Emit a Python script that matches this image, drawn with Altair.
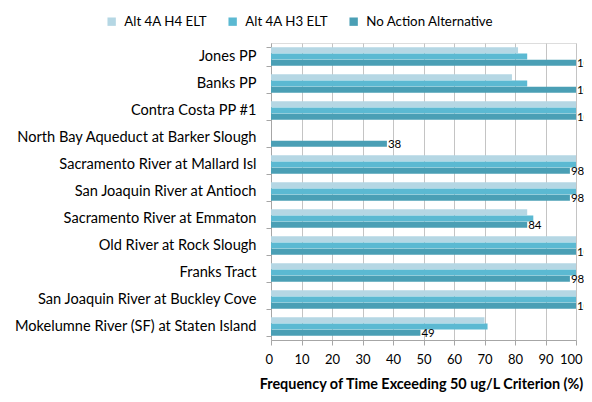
import altair as alt
import pandas as pd

categories = [
    "Jones PP",
    "Banks PP",
    "Contra Costa PP #1",
    "North Bay Aqueduct at Barker Slough",
    "Sacramento River at Mallard Isl",
    "San Joaquin River at Antioch",
    "Sacramento River at Emmaton",
    "Old River at Rock Slough",
    "Franks Tract",
    "San Joaquin River at Buckley Cove",
    "Mokelumne River (SF) at Staten Island",
]
series = ["Alt 4A H4 ELT", "Alt 4A H3 ELT", "No Action Alternative"]
h4_values = [81, 79, 100, 0, 100, 100, 84, 100, 100, 100, 70]
h3_values = [84, 84, 100, 0, 100, 100, 86, 100, 100, 100, 71]
naa_values = [100, 100, 100, 38, 98, 98, 84, 100, 98, 100, 49]
colors = ["#B5D7E4", "#5BB9D2", "#4A9FB5"]
x_ticks = [0, 10, 20, 30, 40, 50, 60, 70, 80, 90, 100]

rows = []
for s, vals in zip(series, [h4_values, h3_values, naa_values]):
    for c, v in zip(categories, vals):
        rows.append({"site": c, "series": s, "value": v})
df = pd.DataFrame(rows)

FONT = "Lato"

y_enc = alt.Y(
    "site:N",
    sort=categories,
    scale=alt.Scale(paddingInner=0.33, paddingOuter=0.165),
    axis=alt.Axis(
        title=None,
        tickBand="extent",
        tickSize=5,
        tickColor="#a6a6a6",
        domainColor="#a6a6a6",
        labelPadding=10,
        labelFontSize=14.6,
        labelFont=FONT,
        labelColor="#000000",
        labelLimit=400,
        grid=False,
    ),
)
x_enc = alt.X(
    "value:Q",
    scale=alt.Scale(domain=[0, 100], nice=False),
    axis=alt.Axis(
        values=x_ticks,
        tickCount=11,
        labelOverlap=False,
        labelFlush=True,
        labelFlushOffset=6,
        title="Frequency of Time Exceeding 50 ug/L Criterion (%)",
        titleFont=FONT,
        titleFontSize=14.4,
        titleFontWeight="bold",
        titleColor="#000000",
        titlePadding=11,
        titleX=150,
        labelFont=FONT,
        labelFontSize=13,
        labelColor="#000000",
        labelPadding=8,
        tickSize=5,
        tickColor="#a6a6a6",
        domainColor="#a6a6a6",
        grid=True,
        gridColor="#c4c4c4",
    ),
)
yoff_enc = alt.YOffset("series:N", sort=series, scale=alt.Scale(domain=series, paddingInner=0.06))

bars = alt.Chart(df).mark_bar(size=6).encode(
    y=y_enc,
    x=x_enc,
    yOffset=yoff_enc,
    color=alt.Color(
        "series:N",
        sort=series,
        scale=alt.Scale(domain=series, range=colors),
        legend=alt.Legend(
            title=None,
            orient="none",
            direction="horizontal",
            legendX=-166,
            legendY=-28,
            symbolType="square",
            symbolSize=70,
            symbolStrokeWidth=0,
            symbolOpacity=1,
            labelFont=FONT,
            labelFontSize=13.3,
            labelColor="#000000",
            labelOffset=6,
            columnPadding=18,
        ),
    ),
)

labels = alt.Chart(df).transform_filter(
    alt.datum.series == "No Action Alternative"
).mark_text(align="left", baseline="middle", dx=1, dy=1, fontSize=11.5, font=FONT, color="#000000").encode(
    y=y_enc,
    x=x_enc,
    yOffset=yoff_enc,
    text=alt.Text("value:Q"),
)

chart = alt.layer(bars, labels).properties(
    width=305,
    height=297,
    autosize=alt.AutoSizeParams(type="none"),
    padding={"left": 263, "top": 35, "right": 8, "bottom": 54},
).configure_view(stroke=None).configure(background="white")

chart.save("out.html", embed_options={"renderer": "svg", "actions": False})
